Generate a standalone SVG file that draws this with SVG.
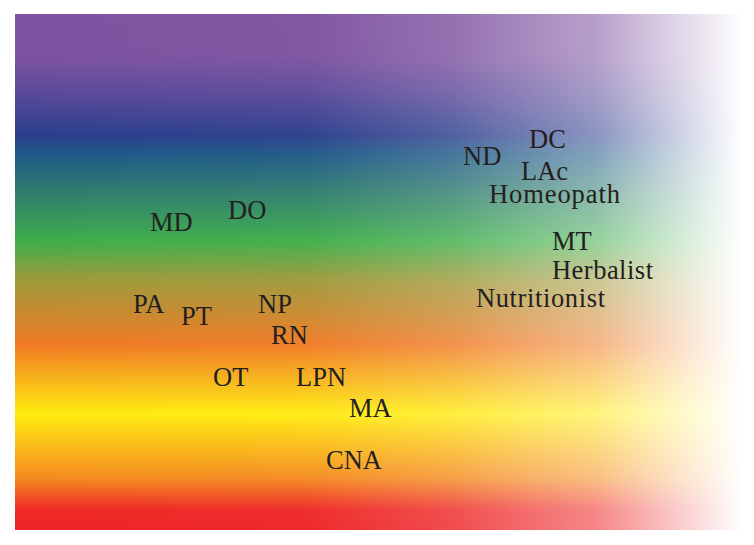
<svg xmlns="http://www.w3.org/2000/svg" width="754" height="545" viewBox="0 0 754 545">
  <defs>
    <linearGradient id="spectrum" x1="0" y1="14" x2="0" y2="530" gradientUnits="userSpaceOnUse">
      <stop offset="0" stop-color="#7E52A0"/>
      <stop offset="0.085" stop-color="#7C52A0"/>
      <stop offset="0.15" stop-color="#5C4A9A"/>
      <stop offset="0.235" stop-color="#2A3E8C"/>
      <stop offset="0.275" stop-color="#1E5A86"/>
      <stop offset="0.34" stop-color="#2E7A70"/>
      <stop offset="0.44" stop-color="#3EAE4A"/>
      <stop offset="0.515" stop-color="#9E9A3A"/>
      <stop offset="0.64" stop-color="#F07A24"/>
      <stop offset="0.775" stop-color="#FFEC10"/>
      <stop offset="0.9" stop-color="#F58A20"/>
      <stop offset="0.96" stop-color="#EE2A26"/>
      <stop offset="1" stop-color="#EE2226"/>
    </linearGradient>
    <linearGradient id="fade" x1="15" y1="0" x2="742" y2="0" gradientUnits="userSpaceOnUse">
      <stop offset="0" stop-color="#FFFFFF" stop-opacity="0"/>
      <stop offset="0.4" stop-color="#FFFFFF" stop-opacity="0.03"/>
      <stop offset="0.6" stop-color="#FFFFFF" stop-opacity="0.18"/>
      <stop offset="0.8" stop-color="#FFFFFF" stop-opacity="0.45"/>
      <stop offset="0.92" stop-color="#FFFFFF" stop-opacity="0.78"/>
      <stop offset="1" stop-color="#FFFFFF" stop-opacity="1"/>
    </linearGradient>
  </defs>
  <style>
    .lbl { font-family: "Liberation Serif", "DejaVu Serif", serif; font-size: 26.5px; fill: #231F20; }
  </style>
  <rect width="754" height="545" fill="#FFFFFF"/>
  <g id="background">
    <rect x="15" y="14" width="727" height="516" fill="url(#spectrum)"/>
    <rect x="15" y="14" width="727" height="516" fill="url(#fade)"/>
  </g>
  <g id="labels">
    <g id="n-DC"><text class="lbl" x="529" y="148">DC</text></g>
    <g id="n-ND"><text class="lbl" x="463" y="165">ND</text></g>
    <g id="n-LAc"><text class="lbl" x="521" y="180">LAc</text></g>
    <g id="n-Homeopath"><text class="lbl" x="489" y="203" textLength="131" lengthAdjust="spacing">Homeopath</text></g>
    <g id="n-MT"><text class="lbl" x="552" y="250">MT</text></g>
    <g id="n-Herbalist"><text class="lbl" x="552" y="279" textLength="101" lengthAdjust="spacing">Herbalist</text></g>
    <g id="n-Nutritionist"><text class="lbl" x="476" y="307" textLength="129" lengthAdjust="spacing">Nutritionist</text></g>
    <g id="n-MD"><text class="lbl" x="150" y="231">MD</text></g>
    <g id="n-DO"><text class="lbl" x="228" y="219">DO</text></g>
    <g id="n-PA"><text class="lbl" x="133" y="313">PA</text></g>
    <g id="n-PT"><text class="lbl" x="181" y="325">PT</text></g>
    <g id="n-NP"><text class="lbl" x="258" y="313">NP</text></g>
    <g id="n-RN"><text class="lbl" x="271" y="344">RN</text></g>
    <g id="n-OT"><text class="lbl" x="213" y="386">OT</text></g>
    <g id="n-LPN"><text class="lbl" x="296" y="386">LPN</text></g>
    <g id="n-MA"><text class="lbl" x="349" y="417">MA</text></g>
    <g id="n-CNA"><text class="lbl" x="326" y="469">CNA</text></g>
  </g>
</svg>
